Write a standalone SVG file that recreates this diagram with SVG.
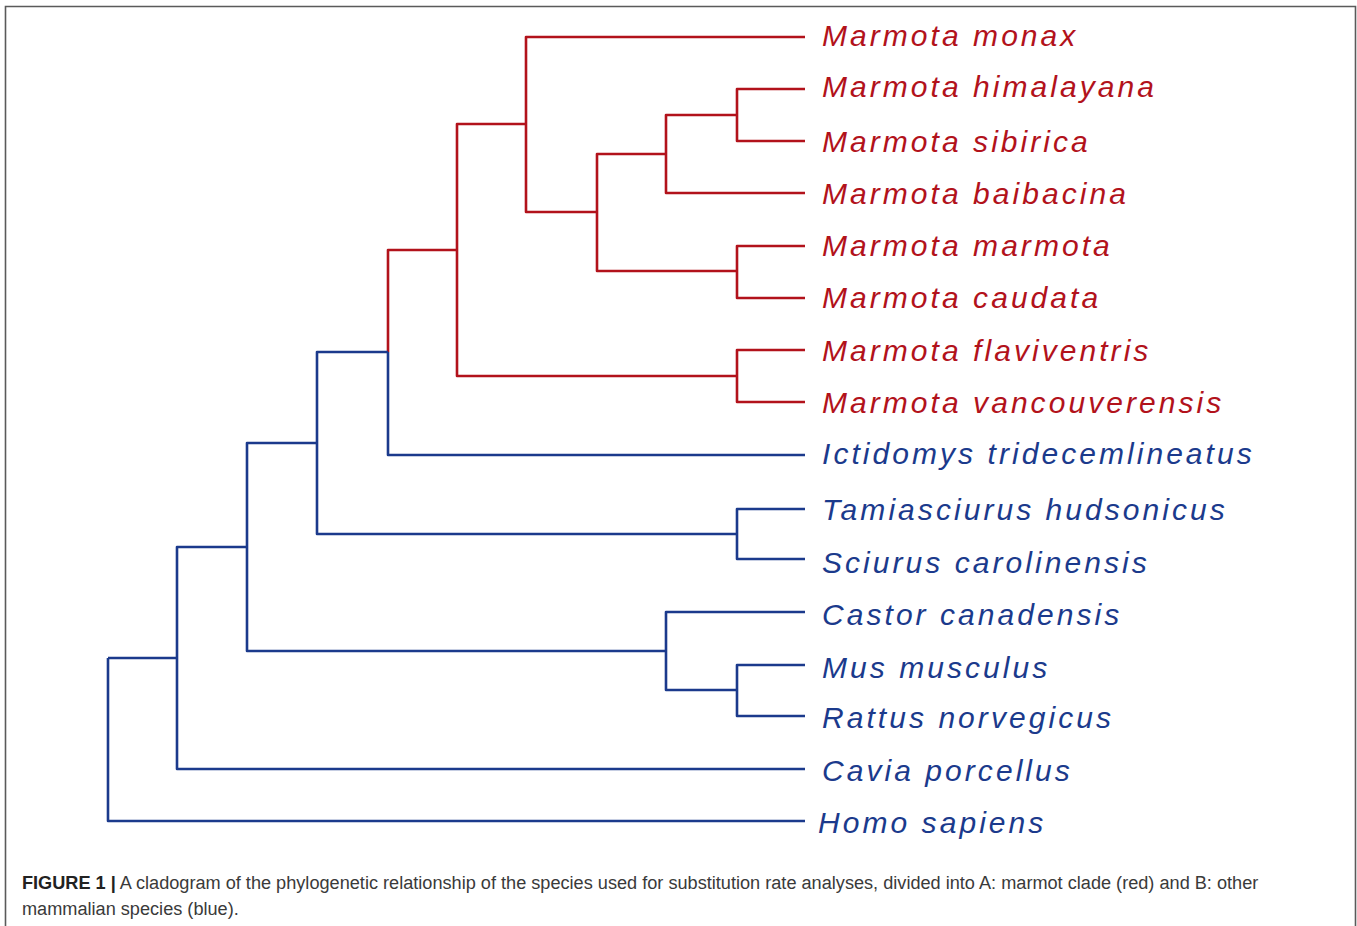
<svg xmlns="http://www.w3.org/2000/svg" width="1357" height="926" viewBox="0 0 1357 926">
<style>
.r{fill:none;stroke:#b2121b;stroke-width:2.6;stroke-linejoin:round}
.b{fill:none;stroke:#1b3a8c;stroke-width:2.6;stroke-linejoin:round}
.lbl{font-family:"Liberation Sans",Arial,sans-serif;font-style:italic;font-size:30px;letter-spacing:3.05px}
.lr{fill:#b2121b}
.lb{fill:#1b3a8c}
.cap{font-family:"Liberation Sans",Arial,sans-serif;font-size:18.15px;fill:#3a3a3a}
</style>
<rect width="1357" height="926" fill="#ffffff"/>
<path d="M5.5,930 V6.5 H1355.5 V930" fill="none" stroke="#5a5a5a" stroke-width="1.6"/>
<g id="connectors">
<path class="r" d="M526,124 V37 H805"/>
<path class="r" d="M526,124 V212 H597"/>
<path class="r" d="M597,212 V154 H666"/>
<path class="r" d="M666,154 V115 H737"/>
<path class="r" d="M737,115 V89 H805"/>
<path class="r" d="M737,115 V141 H805"/>
<path class="r" d="M666,154 V193 H805"/>
<path class="r" d="M597,212 V271 H737"/>
<path class="r" d="M737,271 V246 H805"/>
<path class="r" d="M737,271 V298 H805"/>
<path class="r" d="M457,250 V124 H526"/>
<path class="r" d="M457,250 V376 H737"/>
<path class="r" d="M737,376 V350 H805"/>
<path class="r" d="M737,376 V402 H805"/>
<path class="r" d="M388,352 V250 H457"/>
<path class="b" d="M388,352 V455 H805"/>
<path class="b" d="M317,443 V352 H388"/>
<path class="b" d="M317,443 V534 H737"/>
<path class="b" d="M737,534 V509 H805"/>
<path class="b" d="M737,534 V559 H805"/>
<path class="b" d="M247,547 V443 H317"/>
<path class="b" d="M247,547 V651 H666"/>
<path class="b" d="M666,651 V612 H805"/>
<path class="b" d="M666,651 V690 H737"/>
<path class="b" d="M737,690 V665 H805"/>
<path class="b" d="M737,690 V716 H805"/>
<path class="b" d="M177,658 V547 H247"/>
<path class="b" d="M177,658 V769 H805"/>
<path class="b" d="M108,658 H177"/>
<path class="b" d="M108,658 V821 H805"/>
</g>
<g id="n-monax"><text class="lbl lr" x="822" y="46">Marmota monax</text></g>
<g id="n-himalayana"><text class="lbl lr" x="822" y="97">Marmota himalayana</text></g>
<g id="n-sibirica"><text class="lbl lr" x="822" y="152">Marmota sibirica</text></g>
<g id="n-baibacina"><text class="lbl lr" x="822" y="204">Marmota baibacina</text></g>
<g id="n-marmota"><text class="lbl lr" x="822" y="256">Marmota marmota</text></g>
<g id="n-caudata"><text class="lbl lr" x="822" y="308">Marmota caudata</text></g>
<g id="n-flaviventris"><text class="lbl lr" x="822" y="361">Marmota flaviventris</text></g>
<g id="n-vancouverensis"><text class="lbl lr" x="822" y="413">Marmota vancouverensis</text></g>
<g id="n-ictidomys"><text class="lbl lb" x="822" y="464">Ictidomys tridecemlineatus</text></g>
<g id="n-tamiasciurus"><text class="lbl lb" x="822" y="520">Tamiasciurus hudsonicus</text></g>
<g id="n-sciurus"><text class="lbl lb" x="822" y="573">Sciurus carolinensis</text></g>
<g id="n-castor"><text class="lbl lb" x="822" y="625">Castor canadensis</text></g>
<g id="n-mus"><text class="lbl lb" x="822" y="678">Mus musculus</text></g>
<g id="n-rattus"><text class="lbl lb" x="822" y="728">Rattus norvegicus</text></g>
<g id="n-cavia"><text class="lbl lb" x="822" y="781">Cavia porcellus</text></g>
<g id="n-homo"><text class="lbl lb" x="818" y="833">Homo sapiens</text></g>
<g id="caption">
<text class="cap" x="22" y="889"><tspan font-weight="bold" fill="#222">FIGURE 1 |</tspan> A cladogram of the phylogenetic relationship of the species used for substitution rate analyses, divided into A: marmot clade (red) and B: other</text>
<text class="cap" x="22" y="915">mammalian species (blue).</text>
</g>
</svg>
